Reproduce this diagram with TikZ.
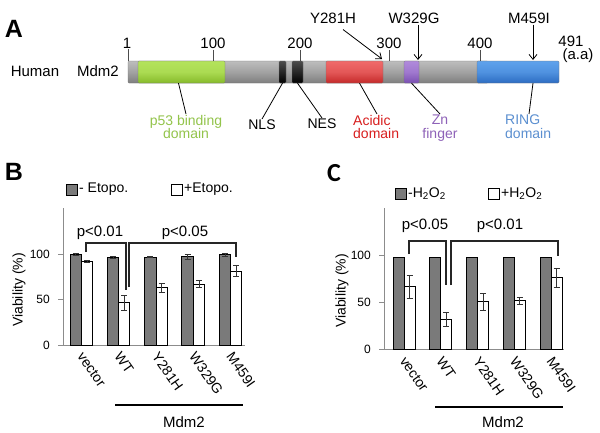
\documentclass[tikz,border=0pt]{standalone}
\usepackage{fontspec}
\setmainfont{Liberation Sans}
\newfontfamily\calib{Carlito}
\usetikzlibrary{calc,arrows.meta}
\definecolor{grayT}{HTML}{BDBDBD}
\definecolor{grayM}{HTML}{A2A2A2}
\definecolor{grayB}{HTML}{7E7E7E}
\definecolor{grnT}{HTML}{B4E35C}
\definecolor{grnB}{HTML}{86BA2A}
\definecolor{redT}{HTML}{F06A6A}
\definecolor{redB}{HTML}{C52A2A}
\definecolor{purT}{HTML}{B08ADB}
\definecolor{purB}{HTML}{7A4FB2}
\definecolor{bluT}{HTML}{5FA2EC}
\definecolor{bluB}{HTML}{2C6CC2}
\definecolor{txtgrn}{HTML}{93C44B}
\definecolor{txtred}{HTML}{D81E1E}
\definecolor{txtpur}{HTML}{8E62B8}
\definecolor{txtblu}{HTML}{5B8FD0}
\definecolor{barg}{HTML}{7A7A7A}
\begin{document}
\begin{tikzpicture}[x=1pt,y=-1pt,
  f15/.style={font=\fontsize{15}{16}\selectfont, inner sep=1pt},
  f14/.style={font=\fontsize{14}{13.5}\selectfont, inner sep=1pt},
  f12/.style={font=\fontsize{12}{13}\selectfont, inner sep=1pt},
  panel/.style={font=\fontsize{25}{26}\selectfont\bfseries, inner sep=0pt},
  dom/.style={rectangle, inner sep=0pt, minimum height=22pt, draw=black!55, line width=0.3pt, rounded corners=1pt},
  tk/.style={draw=black!70, line width=0.8pt},
  ln/.style={draw=black, line width=0.8pt},
  arr/.style={draw=black, line width=0.8pt, -{Straight Barb[length=5pt,width=8pt]}},
  axis/.style={draw=black!45, line width=0.8pt},
  gbar/.style={draw=black, line width=1pt, fill=barg},
  wbar/.style={draw=black, line width=1pt, fill=white},
  err/.style={draw=black!80, line width=0.7pt},
  br/.style={draw=black!85, line width=1.1pt},
  cat/.style={font=\fontsize{14}{15}\selectfont, inner sep=0pt, rotate=-55, anchor=west},
  uline/.style={draw=black, line width=1.8pt}]
\useasboundingbox[fill=white] (0,0) rectangle (600,432);

% ---------------- Panel A ----------------
\node[panel] (pA) at (14,29) {A};
\node[f15] (hum) at (35,71) {Human};
\node[f15] (mlab) at (98,71) {Mdm2};

\node[dom, minimum width=360pt, top color=grayT, bottom color=grayB, middle color=grayM] (mdm) at (308,72) {};
\node[dom, minimum width=87pt, top color=grnT, bottom color=grnB, middle color=grnT!80!grnB] (green) at (181.5,72) {};
\node[dom, minimum width=7pt, top color=black!70, bottom color=black, middle color=black!85] (nls) at (282.5,72) {};
\node[dom, minimum width=11pt, top color=black!70, bottom color=black, middle color=black!85] (nes) at (297.5,72) {};
\node[dom, minimum width=57pt, top color=redT, bottom color=redB, middle color=redT!70!redB] (red) at (354.5,72) {};
\node[dom, minimum width=15pt, top color=purT, bottom color=purB, middle color=purT!70!purB] (pur) at (411.5,72) {};
\node[dom, minimum width=82pt, top color=bluT, bottom color=bluB, middle color=bluT!70!bluB] (blu) at (518,72) {};

% position labels and ticks
\node[f15] (l1) at (127,43) {1};
\node[f15] (l100) at (213,43) {100};
\node[f15] (l200) at (300,43) {200};
\node[f15] (l300) at (389,43) {300};
\node[f15] (l400) at (480,43) {400};
\node[f15] (l491) at (571,41) {491};
\node[f15] (laa) at (578,56) {(a.a)};
\draw[tk] ([xshift=1pt]l1.south) -- ([xshift=1pt]l1.south |- mdm.north);
\draw[tk] (l100.south) -- (l100.south |- mdm.north);
\draw[tk] (l200.south) -- (l200.south |- mdm.north);
\draw[tk] (l300.south) -- (l300.south |- mdm.north);
\draw[tk] (l400.south) -- (l400.south |- mdm.north);

% mutations
\node[f15] (my) at (333,18) {Y281H};
\node[f15] (mw) at (414,18) {W329G};
\node[f15] (mm) at (529,18) {M459I};
\coordinate (ty) at (382,59);
\coordinate (tw) at (418,60);
\coordinate (tm) at (533,60);
\draw[arr] ($(my.south)+(10,5)$) -- (ty);
\draw[arr] (mw.south -| tw) -- (tw);
\draw[arr] (mm.south -| tm) -- (tm);

% domain labels
\node[f14, text=txtgrn, align=center, anchor=north] (lp53) at (186,114) {p53 binding\\domain};
\node[f14, anchor=north] (lnls) at (262,119) {NLS};
\node[f14, anchor=north] (lnes) at (322,118) {NES};
\node[f14, text=txtred, align=left, anchor=north west] (lacid) at (352,114) {Acidic\\domain};
\node[f14, text=txtpur, align=center, anchor=north] (lzn) at (440,114) {Zn\\finger};
\node[f14, text=txtblu, align=left, anchor=north west] (lring) at (504,114) {RING\\domain};
\draw[ln] ([xshift=-3pt]green.south) -- (lp53.north);
\draw[ln] (nls.south) -- (lnls.north);
\draw[ln] (nes.south) -- (lnes.north);
\draw[ln] ([xshift=5pt]red.south) -- ($(lacid.north west)+(25,0)$);
\draw[ln] (pur.south) -- (lzn.north);
\draw[ln] ([xshift=15pt]blu.south) -- ($(lring.north west)+(25,0)$);

% ---------------- Panel B ----------------
\node[panel] (pB) at (14,172) {B};
\draw[gbar] (66,184) rectangle (77,195);
\node[f14, anchor=west] (legB1) at (78,189.5) {- Etopo.};
\draw[wbar] (171,184) rectangle (182,195);
\node[f14, anchor=west] (legB2) at (183,189.5) {+Etopo.};

\draw[axis] (63,208) -- (63,345);
\draw[axis] (58,254) -- (63,254);
\draw[axis] (58,299.5) -- (63,299.5);
\draw[axis] (58,345) -- (245,345);
\node[f12, anchor=east] (yB100) at (51,254) {100};
\node[f12, anchor=east] (yB50) at (51,299.5) {50};
\node[f12, anchor=east] (yB0) at (51,345) {0};
\node[f14, rotate=90] (ylabB) at (19,290) {Viability (\%)};

\foreach \i/\g/\ge/\w/\we/\lab in {0/99.5/1/91.5/1/vector, 1/96.5/1/46.5/8/WT, 2/96.5/0.5/63/5/Y281H, 3/97/2.5/67/4/W329G, 4/99/2/81/6/M459I}{
  \pgfmathsetmacro\xa{70+37.3*\i}
  \pgfmathsetmacro\xb{\xa+11.5}
  \pgfmathsetmacro\xc{\xb+11}
  \pgfmathsetmacro\yg{345-0.91*\g}
  \pgfmathsetmacro\yw{345-0.91*\w}
  \pgfmathsetmacro\gm{(\xa+\xb)/2}
  \pgfmathsetmacro\wm{(\xb+\xc)/2}
  \pgfmathsetmacro\dg{0.91*\ge}
  \pgfmathsetmacro\dw{0.91*\we}
  \draw[gbar] (\xa,345) rectangle (\xb,\yg);
  \draw[wbar] (\xb,345) rectangle (\xc,\yw);
  \draw[err] (\gm,\yg-\dg) -- (\gm,\yg+\dg) (\gm-3,\yg-\dg) -- (\gm+3,\yg-\dg) (\gm-3,\yg+\dg) -- (\gm+3,\yg+\dg);
  \draw[err] (\wm,\yw-\dw) -- (\wm,\yw+\dw) (\wm-3,\yw-\dw) -- (\wm+3,\yw-\dw) (\wm-3,\yw+\dw) -- (\wm+3,\yw+\dw);
  \node[cat] (cB\i) at (\xb-1,354) {\lab};
}
\draw[br] (86,252) -- (86,243) -- (126,243) -- (126,290);
\draw[br] (129,287) -- (129,243) -- (236,243) -- (236,257);
\node[f15] (pB1) at (100,233) {p<0.01};
\node[f15] (pB2) at (185,233) {p<0.05};
\draw[uline] (115,405) -- (243,405);
\node[f15] (mdmB) at (184,422) {Mdm2};

% ---------------- Panel C ----------------
\node[panel, font=\fontsize{26}{26}\calib\bfseries] (pC) at (334,173) {C};
\draw[gbar] (395,188) rectangle (406,199);
\node[f14, anchor=west] (legC1) at (407,193.5) {-H\textsubscript{2}O\textsubscript{2}};
\draw[wbar] (488,188) rectangle (499,199);
\node[f14, anchor=west] (legC2) at (500,193.5) {+H\textsubscript{2}O\textsubscript{2}};

\draw[axis] (384,208) -- (384,349.5);
\draw[axis] (379,255) -- (384,255);
\draw[axis] (379,302) -- (384,302);
\draw[axis] (379,349.5) -- (564,349.5);
\node[f12, anchor=east] (yC100) at (372,255) {100};
\node[f12, anchor=east] (yC50) at (372,302) {50};
\node[f12, anchor=east] (yC0) at (372,349.5) {0};
\node[f14, rotate=90] (ylabC) at (342,291) {Viability (\%)};

\foreach \i/\g/\w/\we/\lab in {0/97/66.5/12/vector, 1/97/32/7/WT, 2/97/50.6/9/Y281H, 3/97/51.5/4/W329G, 4/97/76/10/M459I}{
  \pgfmathsetmacro\xa{393+36.75*\i}
  \pgfmathsetmacro\xb{\xa+11}
  \pgfmathsetmacro\xc{\xb+11}
  \pgfmathsetmacro\yg{349.5-0.945*\g}
  \pgfmathsetmacro\yw{349.5-0.945*\w}
  \pgfmathsetmacro\wm{(\xb+\xc)/2}
  \pgfmathsetmacro\dw{0.945*\we}
  \draw[gbar] (\xa,349.5) rectangle (\xb,\yg);
  \draw[wbar] (\xb,349.5) rectangle (\xc,\yw);
  \draw[err] (\wm,\yw-\dw) -- (\wm,\yw+\dw) (\wm-3,\yw-\dw) -- (\wm+3,\yw-\dw) (\wm-3,\yw+\dw) -- (\wm+3,\yw+\dw);
  \node[cat] (cC\i) at (\xb-1,358.5) {\lab};
}
\draw[br] (409,254) -- (409,241) -- (446,241) -- (446,285);
\draw[br] (451,285) -- (451,241) -- (558,241) -- (558,256);
\node[f15] (pC1) at (425,226) {p<0.05};
\node[f15] (pC2) at (500,226) {p<0.01};
\draw[uline] (435,407) -- (563,407);
\node[f15] (mdmC) at (503,422) {Mdm2};
\end{tikzpicture}
\end{document}
